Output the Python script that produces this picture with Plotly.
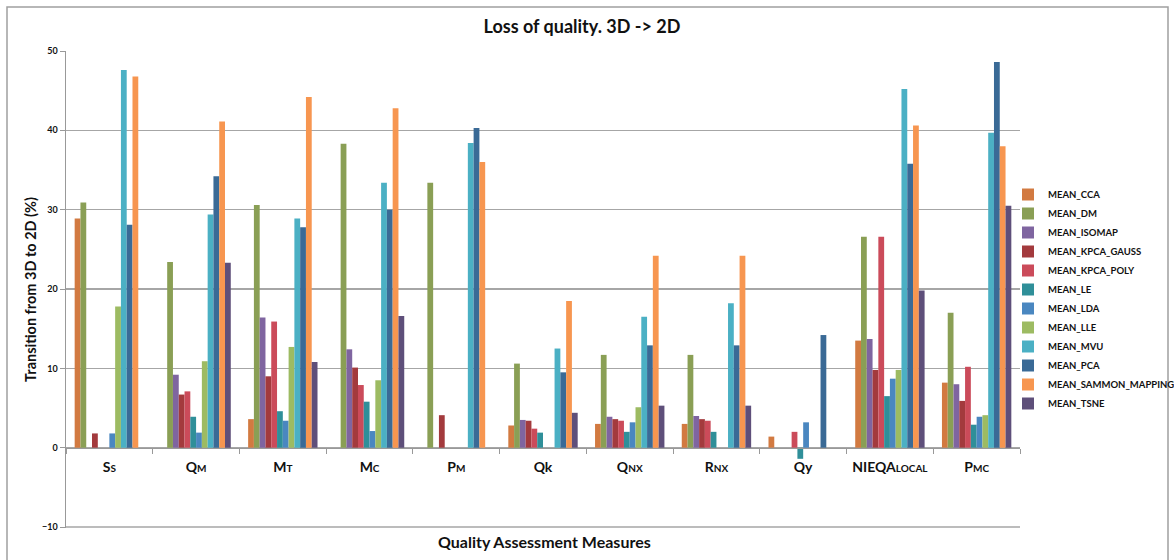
import plotly.graph_objects as go

categories = ["Ss", "QM", "MT", "MC", "PM", "Qk", "QNX", "RNX", "Qy", "NIEQALOCAL", "PMC"]
SUB = "<span style='font-size:10px'>%s</span>"
tick_labels = [
    "S" + SUB % "S",
    "Q" + SUB % "M",
    "M" + SUB % "T",
    "M" + SUB % "C",
    "P" + SUB % "M",
    "Qk",
    "Q" + SUB % "NX",
    "R" + SUB % "NX",
    "Qy",
    "NIEQA" + SUB % "LOCAL",
    "P" + SUB % "MC",
]

series_names = [
    "MEAN_CCA", "MEAN_DM", "MEAN_ISOMAP", "MEAN_KPCA_GAUSS", "MEAN_KPCA_POLY",
    "MEAN_LE", "MEAN_LDA", "MEAN_LLE", "MEAN_MVU", "MEAN_PCA",
    "MEAN_SAMMON_MAPPING", "MEAN_TSNE",
]

mean_cca = [28.9, 0, 3.6, 0, 0, 2.8, 3.0, 3.0, 1.4, 13.5, 8.2]
mean_dm = [30.9, 23.4, 30.6, 38.3, 33.4, 10.6, 11.7, 11.7, 0, 26.6, 17.0]
mean_isomap = [0, 9.2, 16.4, 12.4, 0, 3.5, 3.9, 4.0, 0, 13.7, 8.0]
mean_kpca_gauss = [1.8, 6.7, 9.0, 10.1, 4.1, 3.4, 3.6, 3.6, 0, 9.8, 5.9]
mean_kpca_poly = [0, 7.1, 15.9, 7.9, 0, 2.4, 3.4, 3.4, 2.0, 26.6, 10.2]
mean_le = [0, 3.9, 4.6, 5.8, 0, 1.9, 2.0, 2.0, -1.4, 6.5, 2.9]
mean_lda = [1.8, 1.9, 3.4, 2.1, 0, 0, 3.2, 0, 3.2, 8.7, 3.9]
mean_lle = [17.8, 10.9, 12.7, 8.5, 0, 0, 5.1, 0, 0, 9.8, 4.1]
mean_mvu = [47.6, 29.4, 28.9, 33.4, 38.4, 12.5, 16.5, 18.2, 0, 45.2, 39.7]
mean_pca = [28.1, 34.2, 27.8, 30.0, 40.3, 9.5, 12.9, 12.9, 14.2, 35.8, 48.6]
mean_sammon = [46.8, 41.1, 44.2, 42.8, 36.0, 18.5, 24.2, 24.2, 0, 40.6, 38.0]
mean_tsne = [0, 23.3, 10.8, 16.6, 0, 4.4, 5.3, 5.3, 0, 19.8, 30.5]

series_values = [
    mean_cca, mean_dm, mean_isomap, mean_kpca_gauss, mean_kpca_poly, mean_le,
    mean_lda, mean_lle, mean_mvu, mean_pca, mean_sammon, mean_tsne,
]

colors = [
    "#D27A41", "#8A9F55", "#7F65A0", "#A33A3D", "#CB4B5A", "#2F8F99",
    "#4A87C0", "#9DBB62", "#4BB0C4", "#3A6A96", "#F79650", "#5E4F7A",
]

FONT = "Lato"

fig = go.Figure()
for name, vals, col in zip(series_names, series_values, colors):
    fig.add_trace(go.Bar(name=name, x=categories, y=vals, marker=dict(color=col, line=dict(width=0))))

# plot-area geometry (pixels)
L, R, T, B = 66, 1020, 51, 528
W, H = R - L, B - T
YMIN, YMAX = -10.12, 50.0

def px(x):
    return (x - L) / W

def py(y):
    return (B - y) / H

fig.update_layout(
    width=1174, height=560,
    margin=dict(l=L, r=1174 - R, t=T, b=560 - B, autoexpand=False),
    paper_bgcolor="white", plot_bgcolor="white",
    barmode="group", bargap=0.2, bargroupgap=0,
    font=dict(family=FONT, color="#222222"),
    title=dict(text="<b>Loss of quality. 3D -> 2D</b>", x=px(582), xref="paper", xanchor="center",
               y=1 - 27 / 560, yanchor="middle", font=dict(size=18, family=FONT, color="#111111")),
    legend=dict(x=px(1008), y=py(299), xanchor="left", yanchor="middle",
                font=dict(size=9.5, family=FONT, color="#111111", weight="bold"),
                itemwidth=30, bgcolor="rgba(0,0,0,0)", traceorder="normal"),
    xaxis=dict(
        tickmode="array", tickvals=categories, ticktext=tick_labels,
        tickfont=dict(size=14, family=FONT, color="#111111", weight="bold"),
        anchor="free", position=(0 - YMIN) / (YMAX - YMIN),
        showline=True, linecolor="#999999", linewidth=1.5,
        ticks="outside", tickson="boundaries", ticklen=5, tickcolor="#999999",
        ticklabelstandoff=6,
        showgrid=False, zeroline=False, fixedrange=True, automargin=False,
    ),
    yaxis=dict(
        range=[YMIN, YMAX], tickvals=[-10, 0, 10, 20, 30, 40, 50],
        tickfont=dict(size=9, family=FONT, color="#111111", weight="bold"),
        showgrid=True, gridcolor="#A6A6A6", gridwidth=1.5,
        showline=True, linecolor="#999999", linewidth=1.5,
        ticks="outside", ticklen=5, tickcolor="#999999",
        zeroline=False, automargin=False, fixedrange=True,
        title=dict(text="<b>Transition from 3D to 2D (%)</b>", font=dict(size=14.5, family=FONT, color="#111111"), standoff=2),
    ),
    shapes=[
        dict(type="rect", xref="paper", yref="paper",
             x0=px(7), x1=px(1168), y0=py(580), y1=py(7),
             line=dict(color="#A0A0A0", width=1.5), layer="below"),
        dict(type="line", xref="paper", yref="y", x0=0, x1=1, y0=-10, y1=-10,
             line=dict(color="#A6A6A6", width=1.5), layer="below"),
    ],
    annotations=[
        dict(text="<b>Quality Assessment Measures</b>", xref="paper", yref="paper",
             x=px(544), y=py(541), xanchor="center", yanchor="middle", showarrow=False,
             font=dict(size=16, family=FONT, color="#111111")),
    ],
)

fig.write_html("out.html", config={"displayModeBar": False, "staticPlot": True},
               post_script="document.body.style.margin='0';document.body.style.overflow='hidden';")
